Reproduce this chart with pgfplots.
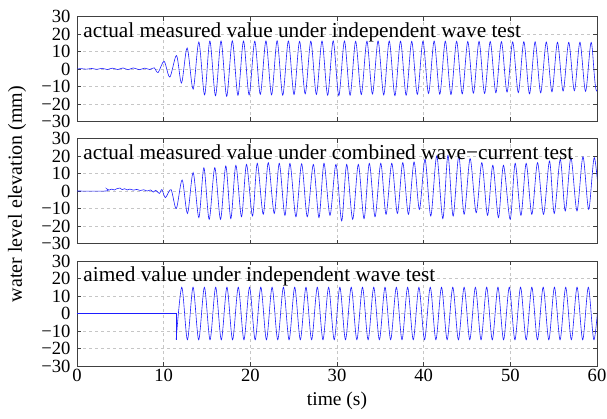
\documentclass[border=0pt]{standalone}
\usepackage{fontspec}
\setmainfont{Liberation Serif}
\usepackage{pgfplots}
\pgfplotsset{compat=1.18}
\definecolor{wblue}{RGB}{30,30,255}
\pgfplotsset{
 panel/.style={
  width=520pt, height=105pt, scale only axis,
  xmin=0, xmax=60, ymin=-30, ymax=30,
  xtick={0,10,...,60}, ytick={-30,-20,...,30},
  yticklabels={−30,−20,−10,0,10,20,30},
  grid=major, major grid style={dashed, gray!45, line width=0.4pt},
  axis line style={black!75, line width=0.8pt},
  tick align=inside, major tick length=4pt, tick style={black!75, line width=0.6pt},
  tick label style={font=\fontsize{18.6}{18.6}\selectfont},
  yticklabel style={xshift=-3pt},
  /pgf/number format/assume math mode=true,
  anchor=south west,
 },
}
\tikzset{ptitle/.style={anchor=north west, inner sep=0pt, font=\fontsize{21.3}{21.3}\selectfont},
  wave/.style={wblue, line width=0.6pt, mark=none}}
\begin{document}
\begin{tikzpicture}
\useasboundingbox (0pt,0pt) rectangle (607pt,418pt);
% ---------- top panel
\begin{axis}[panel, at={(77pt,296.5pt)}, xticklabels={}]
\addplot[wave, smooth] coordinates {
(0,0) (0.5,0.2) (1.1,-0.1) (1.7,0.3) (2.3,-0.2) (2.9,0.4) (3.5,-0.3) (4.1,0.5) (4.7,-0.3) (5.3,0.6) (5.9,-0.4) (6.5,0.6) (7.2,-0.4) (7.8,0.5) (8.4,-0.3) (8.9,0.7) (9.36,-2.0) (10.05,4.4) (10.71,-4.6) (11.48,7.7) (12.06,-8.0) (12.71,12.0) (13.40,-11.5) (14.06,15.4) (14.72,-14.8)
(15.33,16.0) (15.98,-15.3) (16.62,16.0) (17.27,-15.6) (17.92,16.1) (18.57,-15.0) (19.21,16.0) (19.86,-14.8) (20.51,15.9) (21.15,-14.5) (21.80,16.0) (22.45,-14.8) (23.09,16.1) (23.74,-15.0) (24.39,16.0) (25.04,-14.6) (25.68,15.8) (26.33,-14.2) (26.98,15.9) (27.62,-14.5) (28.27,16.0) (28.92,-15.0) (29.56,16.1) (30.21,-15.2) (30.86,16.0) (31.51,-15.0) (32.15,15.8) (32.80,-14.6) (33.45,15.9) (34.09,-14.3) (34.74,16.0) (35.39,-14.8) (36.03,16.0) (36.68,-15.2) (37.33,15.9) (37.98,-15.0) (38.62,15.8) (39.27,-14.5) (39.92,15.9) (40.56,-14.0) (41.21,16.0) (41.86,-14.4) (42.50,15.9) (43.15,-14.6) (43.80,15.8) (44.45,-14.2) (45.09,15.7) (45.74,-13.8) (46.39,15.8) (47.03,-14.0) (47.68,15.7) (48.33,-13.6) (48.97,15.6) (49.62,-13.2) (50.27,15.5) (50.92,-13.5) (51.56,15.6) (52.21,-14.2) (52.86,15.5) (53.50,-13.6) (54.15,15.4) (54.80,-13.0) (55.44,15.3) (56.09,-12.6) (56.74,15.2) (57.39,-12.4) (58.03,15.3) (58.68,-12.8) (59.33,15.2) (59.97,-12.6) (61.27,15.2)
};
\node[ptitle] at (rel axis cs:0.012,0.945) {actual measured value under independent wave test};
\end{axis}
% ---------- middle panel
\begin{axis}[panel, at={(77pt,174.5pt)}, xticklabels={}]
\addplot[wave, smooth] coordinates {
(0,0) (3.35,0) (3.45,1.2) (3.7,0.5) (4.0,1.1) (4.3,0.6) (4.6,1.3) (4.95,1.7) (5.2,0.8) (5.5,1.3) (5.8,0.6) (6.1,1.1) (6.5,0.5) (6.9,0.9) (7.3,0.3) (7.7,0.7) (8.1,0.0) (8.5,0.6) (8.8,-0.6) (9.1,0.4) (9.5,-1.4) (9.8,0.8) (10.2,-3.8) (10.85,0.8)
(11.46,-10.0) (12.13,6.3) (12.75,-12.8) (13.40,10.5) (14.06,-15.2) (14.64,13.3) (15.25,-16.2) (15.90,13.3) (16.56,-16.2) (17.17,14.3) (17.75,-15.8) (18.33,14.7) (18.98,-14.7) (19.56,15.2) (20.25,-14.3) (20.80,15.8) (21.49,-13.3) (22.07,16.2) (22.76,-12.8) (23.34,15.8) (23.99,-13.9) (24.57,15.8) (25.26,-14.7) (25.92,15.5) (26.57,-14.7) (27.27,15.2) (27.92,-15.2) (28.50,15.8) (29.19,-13.9) (29.88,15.2) (30.54,-17.1) (31.12,15.2) (31.81,-16.2) (32.46,15.2) (33.12,-15.8) (33.73,15.8) (34.39,-14.7) (35.05,15.8) (35.66,-13.3) (36.32,15.8) (36.97,-12.8) (37.59,16.2) (38.24,-13.3) (38.89,16.6) (39.51,-10.5) (40.16,18.1) (40.82,-14.3) (41.51,20.0) (42.21,-15.8) (42.80,20.4) (43.40,-14.3) (44.05,20.0) (44.67,-13.3) (45.36,18.5) (46.06,-12.4) (46.71,16.2) (47.37,-13.9) (47.98,14.7) (48.63,-15.2) (49.21,14.7) (49.98,-16.2) (50.56,15.8) (51.22,-13.9) (51.83,15.8) (52.48,-13.3) (53.14,16.2) (53.83,-13.3) (54.52,17.1) (55.07,-12.8) (55.76,18.1) (56.34,-11.4) (56.99,19.0) (57.69,-11.4) (58.38,19.6) (59.04,-10.5) (59.69,19.0) (60.35,-11.0)
};
\node[ptitle] at (rel axis cs:0.012,0.945) {actual measured value under combined wave−current test};
\end{axis}
% ---------- bottom panel
\begin{axis}[panel, at={(77pt,52pt)},
  xlabel={time (s)}, xlabel style={font=\fontsize{19.5}{19.5}\selectfont, yshift=-3pt}]
\addplot[wave, sharp plot] coordinates {(0,0) (11.44,0) (11.44,-15)};
\addplot[wave, smooth] coordinates {
(11.44,-15) (12.09,15) (12.74,-15) (13.39,15) (14.04,-15) (14.70,15) (15.35,-15) (16.00,15) (16.65,-15) (17.30,15) (17.95,-15) (18.61,15) (19.26,-15) (19.91,15) (20.56,-15) (21.21,15) (21.86,-15) (22.51,15) (23.16,-15) (23.82,15) (24.47,-15) (25.12,15) (25.77,-15) (26.42,15) (27.07,-15) (27.73,15) (28.38,-15) (29.03,15) (29.68,-15) (30.33,15) (30.98,-15) (31.64,15) (32.29,-15) (32.94,15) (33.59,-15) (34.24,15) (34.89,-15) (35.54,15) (36.19,-15) (36.85,15) (37.50,-15) (38.15,15) (38.80,-15) (39.45,15) (40.10,-15) (40.76,15) (41.41,-15) (42.06,15) (42.71,-15) (43.36,15) (44.01,-15) (44.67,15) (45.32,-15) (45.97,15) (46.62,-15) (47.27,15) (47.92,-15) (48.57,15) (49.22,-15) (49.88,15) (50.53,-15) (51.18,15) (51.83,-15) (52.48,15) (53.13,-15) (53.79,15) (54.44,-15) (55.09,15) (55.74,-15) (56.39,15) (57.04,-15) (57.70,15) (58.35,-15) (59.00,15) (59.65,-15) (60.30,15)
};
\node[ptitle] at (rel axis cs:0.012,0.945) {aimed value under independent wave test};
\end{axis}
\node[rotate=90, font=\fontsize{20}{20}\selectfont] at (17pt,224pt) {water level elevation (mm)};
\end{tikzpicture}
\end{document}
